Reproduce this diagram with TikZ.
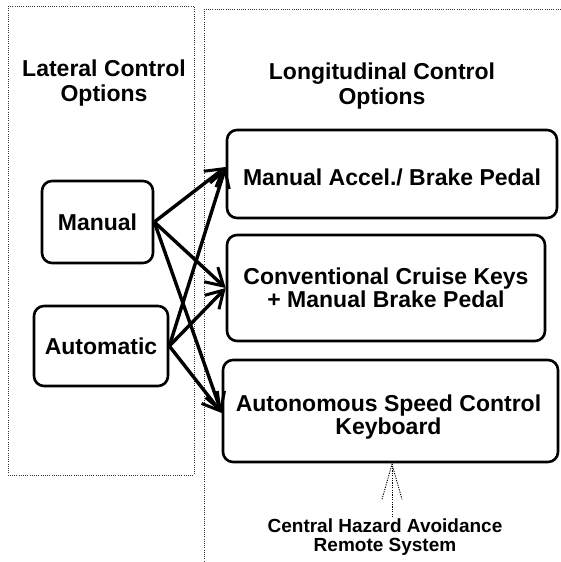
\documentclass[tikz,border=0pt]{standalone}
\usepackage{fontspec}
\setmainfont{Liberation Sans}
\usetikzlibrary{arrows.meta,calc}
\begin{document}
\begin{tikzpicture}[x=1pt,y=-1pt,
  dotline/.style={line width=0.7pt,dash pattern=on 1pt off 1.2pt,black!80},
  optbox/.style={draw,line width=2.6pt,rounded corners=10pt,inner sep=0pt,align=center,
     font=\bfseries\fontsize{23}{23.5}\selectfont},
  boxtext/.style={align=center,inner sep=0pt,font=\bfseries\fontsize{23}{23.5}\selectfont},
  title/.style={align=center,font=\bfseries\fontsize{23}{25}\selectfont,inner sep=0pt},
  link/.style={line width=3.4pt,-{Straight Barb[length=17pt,width=20pt,line width=3pt]}},
  barb/.style={line width=0.9pt,dash pattern=on 1.2pt off 1.2pt}]
\useasboundingbox (0,0) rectangle (560,562);
% dotted frames
\draw[dotline] (8,6) rectangle (194,475);
\draw[dotline] (204,566) -- (204,9) -- (566,9);
% titles
\node[title] (lt) at (104,83) {Lateral Control\\Options};
\node[title] (gt) at (382,86) {Longitudinal Control\\Options};
% left boxes
\node[optbox,minimum width=111pt,minimum height=82pt] (man) at (97.5,222) {Manual};
\node[optbox,minimum width=134pt,minimum height=80pt] (aut) at (101,346) {Automatic};
% right boxes
\node[optbox,minimum width=330pt,minimum height=88pt] (b1) at (392,174) {};
\node[boxtext] (b1t) at ($(b1.center)+(0,3)$) {Manual Accel./ Brake Pedal};
\node[optbox,minimum width=318pt,minimum height=106pt] (b2) at (386,288) {Conventional Cruise Keys\\+ Manual Brake Pedal};
\node[optbox,minimum width=335pt,minimum height=102pt] (b3) at (390.5,411) {};
\node[boxtext] (b3t) at ($(b3.center)+(-2,6)$) {Autonomous Speed Control\\Keyboard};
% bottom text
\node[align=center,inner sep=1pt,font=\bfseries\fontsize{19}{19.5}\selectfont] (cha) at (385,537) {Central Hazard Avoidance\\Remote System};
% connectors
\draw[link] (man.east) -- ([yshift=7pt]b1.west);
\draw[link] (man.east) -- (b2.west);
\draw[link] (man.east) -- ([yshift=-2pt]b3.west);
\draw[link] (aut.east) -- ([yshift=7pt]b1.west);
\draw[link] (aut.east) -- (b2.west);
\draw[link] (aut.east) -- ([yshift=-2pt]b3.west);
% dotted arrow from hazard system
\coordinate (tip) at ($(b3.south)+(1.5,1)$);
\draw[barb] (tip |- cha.north) -- (tip);
\draw[barb] ($(tip)+(-10,35)$) -- (tip) -- ($(tip)+(10,35)$);
\end{tikzpicture}
\end{document}
